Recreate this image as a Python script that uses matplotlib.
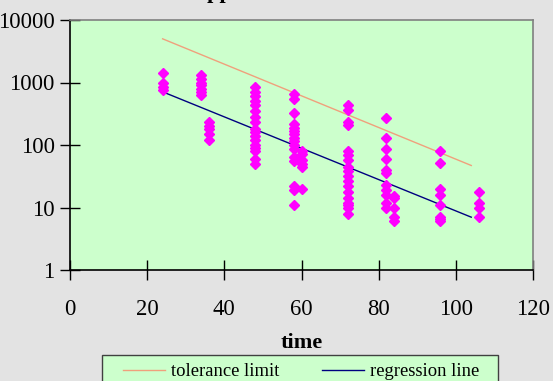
import matplotlib
matplotlib.use("Agg")
import matplotlib.pyplot as plt
from matplotlib.patches import Rectangle
import numpy as np

# ---- data ----
col_times = [24, 34, 36, 48, 58, 60, 72, 82, 84, 96, 106]
col_values = [
    [1400, 1000, 850, 750],
    [1300, 1150, 1000, 900, 800, 700, 630],
    [230, 200, 180, 150, 120],
    [850, 700, 600, 500, 430, 350, 280, 230, 180, 160, 140, 120, 100, 90, 80, 60, 50],
    [650, 550, 320, 220, 190, 170, 150, 130, 115, 100, 85, 65, 55, 22, 19, 11],
    [80, 72, 58, 50, 45, 20],
    [430, 360, 230, 210, 80, 70, 58, 45, 38, 32, 27, 22, 18, 14, 12, 11, 10, 8],
    [270, 130, 85, 60, 40, 35, 23, 19, 16, 12, 10],
    [15, 14, 10, 7, 6],
    [80, 52, 20, 16, 11, 7, 6.5, 6],
    [18, 12, 10, 7],
]
line_time = [24, 104]
tolerance_limit = [5000, 47]
regression_line = [710, 7]

x_ticks = [0, 20, 40, 60, 80, 100, 120]
y_ticks = [1, 10, 100, 1000, 10000]
y_ticklabels = ["1", "10", "100", "1000", "10000"]

W, H = 553, 381
plt.rcParams['font.family'] = ['Liberation Serif', 'DejaVu Serif']
fig = plt.figure(figsize=(W / 100, H / 100), dpi=100, facecolor='#E3E3E3')
ax = fig.add_axes([70 / W, 1 - 270 / H, (533 - 70) / W, (270 - 20) / H])
ax.set_facecolor('#CCFFCC')

xs = []
ys = []
for t, vals in zip(col_times, col_values):
    xs += [t] * len(vals)
    ys += vals
ax.plot(xs, ys, linestyle='none', marker='D', markersize=5, color='#FF00FF',
        markeredgecolor='#FF00FF', zorder=3)

l1, = ax.plot(line_time, tolerance_limit, color='#F0A07C', lw=1.0, label='tolerance limit', zorder=2)
l2, = ax.plot(line_time, regression_line, color='#000080', lw=1.0, label='regression line', zorder=2)

ax.set_yscale('log')
ax.set_ylim(1, 10000)
ax.set_xlim(0, 120)
ax.set_xticks(x_ticks)
ax.set_xticklabels([str(v) for v in x_ticks])
ax.set_yticks(y_ticks)
ax.set_yticklabels(y_ticklabels)
ax.yaxis.set_minor_locator(matplotlib.ticker.NullLocator())
ax.tick_params(axis='both', direction='inout', length=15, width=1, colors='black',
               labelsize=16.3, labelcolor='black')
ax.tick_params(axis='x', pad=13.4)
ax.tick_params(axis='y', pad=3.5)

for s in ['left', 'bottom']:
    ax.spines[s].set_color('black')
    ax.spines[s].set_linewidth(1.2)
for s in ['top', 'right']:
    ax.spines[s].set_color('#808080')
    ax.spines[s].set_linewidth(1.2)

ax.set_xlabel('time', fontsize=16, fontweight='bold', labelpad=9)

# title (cut off at top of the picture); place so that "pp" starts near x=207 px
renderer = fig.canvas.get_renderer()
probe = fig.text(0, 0, 'U', fontsize=16, fontweight='bold')
u_w = probe.get_window_extent(renderer).width
probe.remove()
fig.text((207 - u_w) / W, 1 + 2 / H, 'Upper tolerance limit', fontsize=16, fontweight='bold',
         ha='left', va='baseline')

# legend box
fig.patches.append(Rectangle((102 / W, 1 - 395 / H), (498 - 102) / W, 40 / H,
                             transform=fig.transFigure, facecolor='#CCFFCC',
                             edgecolor='#404040', linewidth=1.0, zorder=1))
leg = fig.legend(handles=[l1, l2], loc='center left', bbox_to_anchor=(123 / W, 1 - 371.5 / H),
                 ncol=2, frameon=False, fontsize=13.4, borderaxespad=0, borderpad=0,
                 handlelength=2.26, columnspacing=2.3, handletextpad=0.32)
leg.set_zorder(2)

fig.savefig('out.png', dpi=100, facecolor=fig.get_facecolor())
